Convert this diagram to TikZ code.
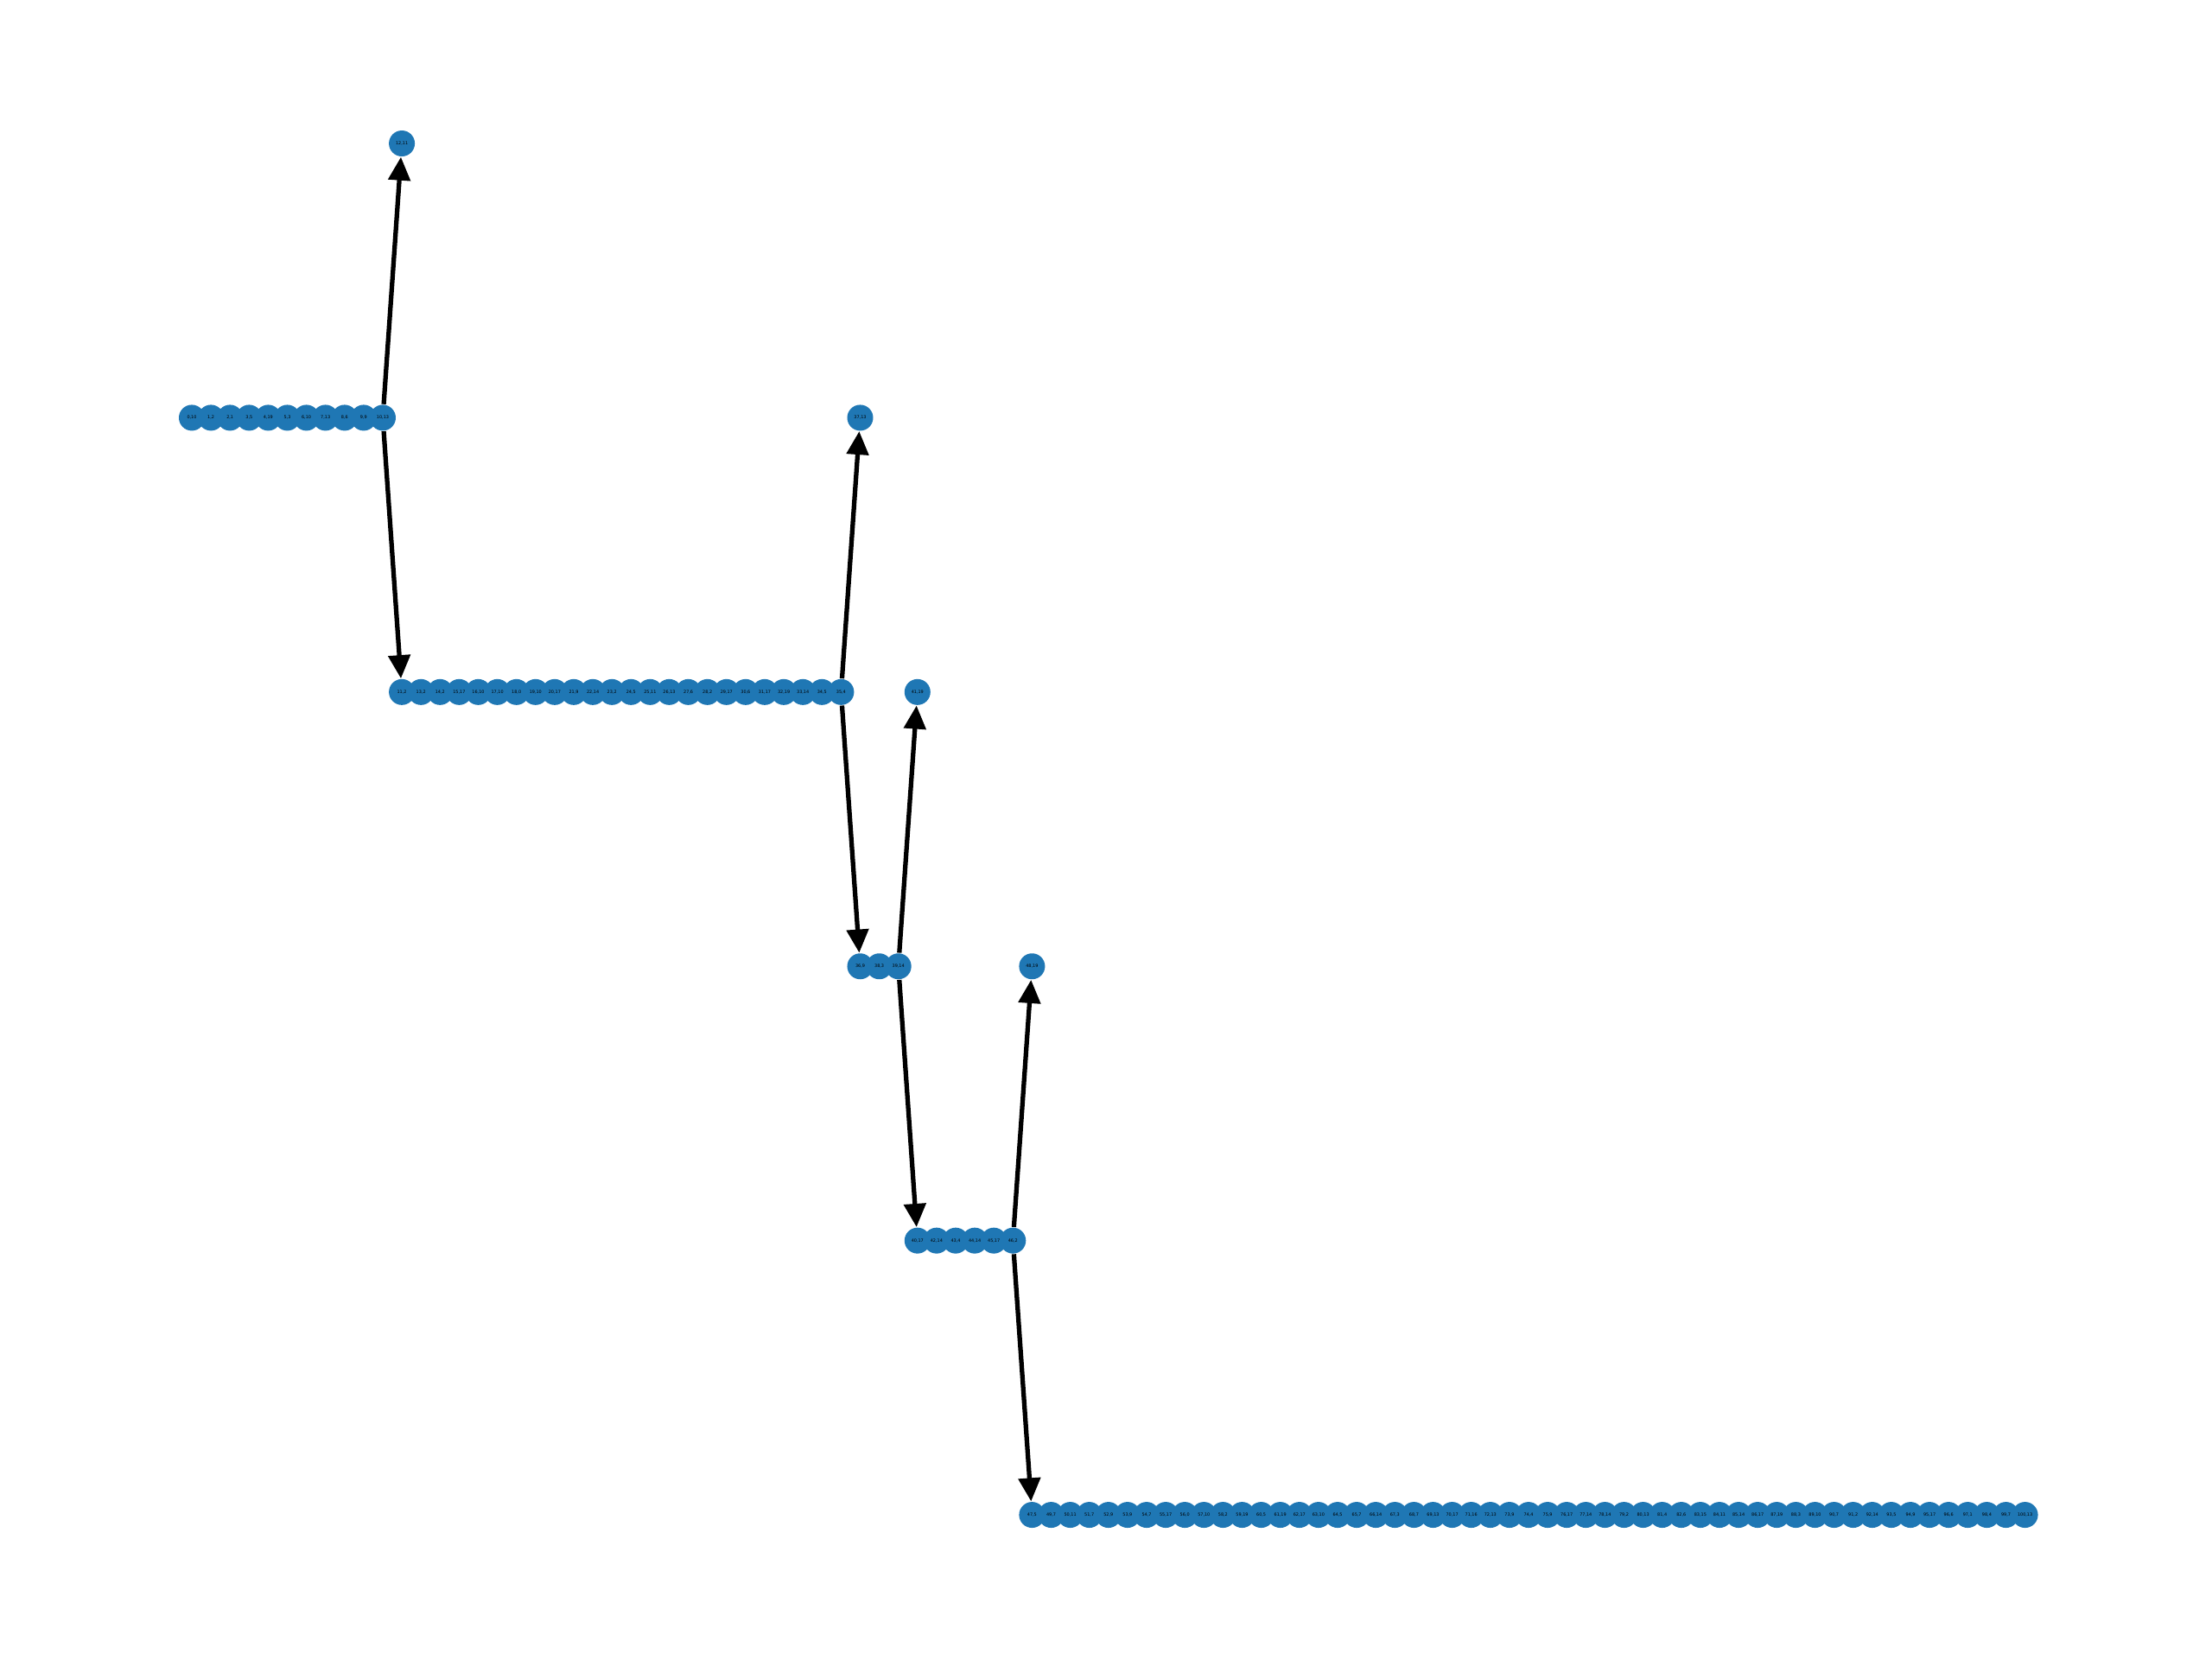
\documentclass[tikz,border=0pt]{standalone}
\usepackage{fontspec}
\setmainfont{DejaVu Sans}
\usepackage{tikz}
\usetikzlibrary{arrows.meta}
\definecolor{nxblue}{RGB}{31,119,180}

\begin{document}
\begin{tikzpicture}[x=0.221cm,y=-3.174cm,
  arr/.style={line width=1.5pt, black, -{Triangle[length=0.27cm,width=0.25cm]}}]
\useasboundingbox (-10.045,-0.523) rectangle (105.792,5.526);
\begin{scope}[every node/.style={circle,fill=nxblue,minimum size=0.3cm,inner sep=0pt,font=\fontsize{1.4}{1.7}\selectfont}]
\node (0) at (0,1)  {0,10};
\node (1) at (1,1)  {1,2};
\node (2) at (2,1)  {2,1};
\node (3) at (3,1)  {3,5};
\node (4) at (4,1)  {4,19};
\node (5) at (5,1)  {5,3};
\node (6) at (6,1)  {6,10};
\node (7) at (7,1)  {7,13};
\node (8) at (8,1)  {8,6};
\node (9) at (9,1)  {9,9};
\node (10) at (10,1) {10,13};

\node (12) at (11,0) {12,11};

\node (11) at (11,2) {11,2};
\node (13) at (12,2) {13,2};
\node (14) at (13,2) {14,2};
\node (15) at (14,2) {15,17};
\node (16) at (15,2) {16,10};
\node (17) at (16,2) {17,10};
\node (18) at (17,2) {18,0};
\node (19) at (18,2) {19,10};
\node (20) at (19,2) {20,17};
\node (21) at (20,2) {21,9};
\node (22) at (21,2) {22,14};
\node (23) at (22,2) {23,2};
\node (24) at (23,2) {24,5};
\node (25) at (24,2) {25,11};
\node (26) at (25,2) {26,13};
\node (27) at (26,2) {27,6};
\node (28) at (27,2) {28,2};
\node (29) at (28,2) {29,17};
\node (30) at (29,2) {30,6};
\node (31) at (30,2) {31,17};
\node (32) at (31,2) {32,19};
\node (33) at (32,2) {33,14};
\node (34) at (33,2) {34,5};
\node (35) at (34,2) {35,4};

\node (37) at (35,1) {37,13};

\node (36) at (35,3) {36,9};
\node (38) at (36,3) {38,3};
\node (39) at (37,3) {39,14};

\node (41) at (38,2) {41,19};

\node (40) at (38,4) {40,17};
\node (42) at (39,4) {42,14};
\node (43) at (40,4) {43,4};
\node (44) at (41,4) {44,14};
\node (45) at (42,4) {45,17};
\node (46) at (43,4) {46,2};

\node (48) at (44,3) {48,19};

\node (47) at (44,5) {47,5};
\node (49) at (45,5) {49,7};
\node (50) at (46,5) {50,11};
\node (51) at (47,5) {51,7};
\node (52) at (48,5) {52,9};
\node (53) at (49,5) {53,9};
\node (54) at (50,5) {54,7};
\node (55) at (51,5) {55,17};
\node (56) at (52,5) {56,0};
\node (57) at (53,5) {57,10};
\node (58) at (54,5) {58,2};
\node (59) at (55,5) {59,19};
\node (60) at (56,5) {60,5};
\node (61) at (57,5) {61,19};
\node (62) at (58,5) {62,17};
\node (63) at (59,5) {63,10};
\node (64) at (60,5) {64,5};
\node (65) at (61,5) {65,7};
\node (66) at (62,5) {66,14};
\node (67) at (63,5) {67,3};
\node (68) at (64,5) {68,7};
\node (69) at (65,5) {69,13};
\node (70) at (66,5) {70,17};
\node (71) at (67,5) {71,16};
\node (72) at (68,5) {72,13};
\node (73) at (69,5) {73,9};
\node (74) at (70,5) {74,4};
\node (75) at (71,5) {75,9};
\node (76) at (72,5) {76,17};
\node (77) at (73,5) {77,14};
\node (78) at (74,5) {78,14};
\node (79) at (75,5) {79,2};
\node (80) at (76,5) {80,13};
\node (81) at (77,5) {81,4};
\node (82) at (78,5) {82,6};
\node (83) at (79,5) {83,15};
\node (84) at (80,5) {84,11};
\node (85) at (81,5) {85,14};
\node (86) at (82,5) {86,17};
\node (87) at (83,5) {87,19};
\node (88) at (84,5) {88,3};
\node (89) at (85,5) {89,10};
\node (90) at (86,5) {90,7};
\node (91) at (87,5) {91,2};
\node (92) at (88,5) {92,14};
\node (93) at (89,5) {93,5};
\node (94) at (90,5) {94,9};
\node (95) at (91,5) {95,17};
\node (96) at (92,5) {96,6};
\node (97) at (93,5) {97,1};
\node (98) at (94,5) {98,4};
\node (99) at (95,5) {99,7};
\node (100) at (96,5) {100,13};
\end{scope}

\draw[arr] (10) -- (12);
\draw[arr] (10) -- (11);
\draw[arr] (35) -- (37);
\draw[arr] (35) -- (36);
\draw[arr] (39) -- (41);
\draw[arr] (39) -- (40);
\draw[arr] (46) -- (48);
\draw[arr] (46) -- (47);
\end{tikzpicture}
\end{document}
